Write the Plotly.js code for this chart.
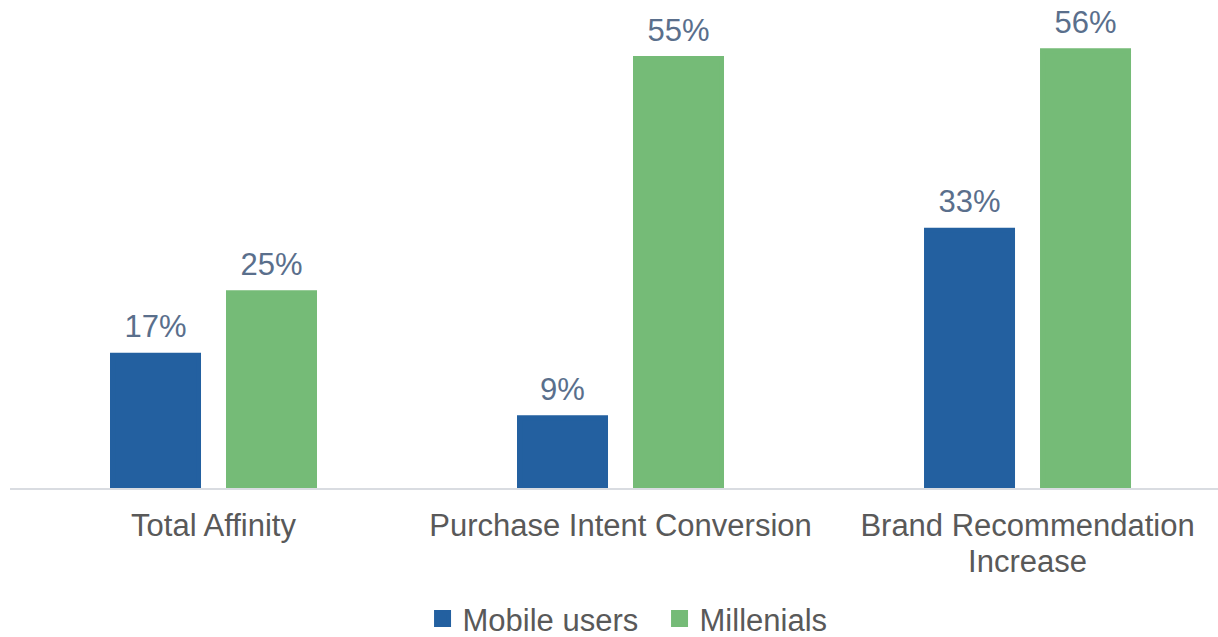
<!DOCTYPE html>
<html>
<head>
<meta charset="utf-8">
<script src="https://cdn.plot.ly/plotly-3.0.1.min.js"></script>
<style>html,body{margin:0;padding:0;background:#fff;}#chart{width:1218px;height:637px;}</style>
</head>
<body>
<div id="chart"></div>
<script>
const categories = ["Total Affinity", "Purchase Intent Conversion", "Brand Recommendation<br>Increase"];
const mobileUsers = [17, 9, 33];
const millenials = [25, 55, 56];
const seriesNames = ["Mobile users", "Millenials"];
const colors = ["#2360A0", "#75BB77"];

// value label: big visible line plus a small spacer line to lift it off the bar
const pct = v => v.map(x => "<span style='font-size:31px'>" + x + "%</span><br>&nbsp;");
const tickText = categories.map(c => c.split("<br>").map(s => "<span style='font-size:31px'>" + s + "</span>").join("<br>"));
const labelFont = {family: "Liberation Sans, Arial, sans-serif", size: 10, color: "#5A6F8C"};

const traces = [
  {type: "bar", name: seriesNames[0], x: categories, y: mobileUsers, text: pct(mobileUsers),
   textposition: "outside", textfont: labelFont, marker: {color: colors[0], line: {width: 5, color: colors[0]}},
   cliponaxis: true, hoverinfo: "none"},
  {type: "bar", name: seriesNames[1], x: categories, y: millenials, text: pct(millenials),
   textposition: "outside", textfont: labelFont, marker: {color: colors[1], line: {width: 5, color: colors[1]}},
   cliponaxis: true, hoverinfo: "none"}
];

const layout = {
  width: 1218, height: 637,
  margin: {l: 10, r: 0, t: 0, b: 149, autoexpand: false},
  paper_bgcolor: "#fff", plot_bgcolor: "#fff",
  font: {family: "Liberation Sans, Arial, sans-serif", size: 31, color: "#595959"},
  barmode: "group", bargap: 0.43, bargroupgap: 0.2586,
  xaxis: {type: "category", range: [-0.5, 2.468], showline: true, linecolor: "#D9DCE1", linewidth: 2,
          tickmode: "array", tickvals: categories, ticktext: tickText,
          ticks: "", ticklabelstandoff: 12, showgrid: false, zeroline: false, automargin: false,
          tickfont: {size: 28, color: "#595959"}},
  yaxis: {range: [0, 62.5], visible: false, showgrid: false, zeroline: false},
  showlegend: true,
  legend: {orientation: "h", x: 0.5377, xanchor: "center", y: -0.268, yanchor: "middle",
           entrywidth: 192, font: {size: 31, color: "#595959"}, traceorder: "normal"}
};

Plotly.newPlot("chart", traces, layout, {staticPlot: true, displayModeBar: false});
</script>
</body>
</html>
